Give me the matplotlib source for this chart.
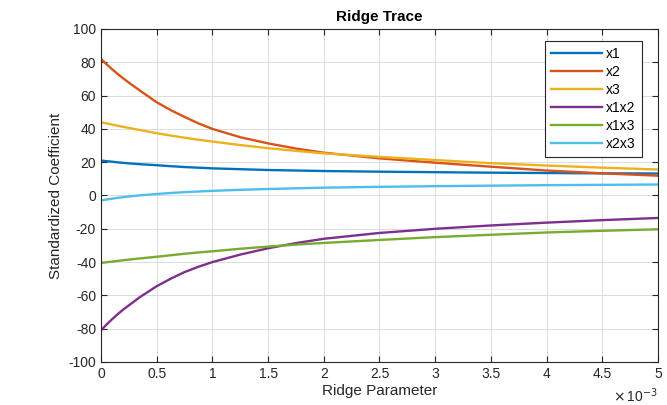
import matplotlib
matplotlib.use("Agg")
import matplotlib.pyplot as plt
import numpy as np

plt.rcParams["font.family"] = ["Liberation Sans", "DejaVu Sans"]
plt.rcParams["axes.unicode_minus"] = False

# ridge parameter (x 1e-3)
k = [0, 0.05, 0.1, 0.15, 0.2, 0.25, 0.35, 0.5, 0.625, 0.75, 0.875, 1,
     1.25, 1.5, 1.75, 2, 2.5, 3, 3.5, 4, 4.5, 5]

x1 = [21, 20.6, 20.3, 19.9, 19.6, 19.3, 18.8, 18.2, 17.6, 17.1, 16.7, 16.3,
      15.8, 15.3, 15, 14.7, 14.3, 14, 13.7, 13.5, 13.3, 13.2]
x2 = [82, 78.8, 75.8, 73, 70.3, 67.8, 63, 56, 51.3, 47.2, 43.3, 40,
      35, 31.3, 28.2, 25.7, 22.3, 19.7, 17.3, 15, 13.3, 11.9]
x3 = [44, 43.3, 42.6, 41.9, 41.2, 40.6, 39.3, 37.4, 36, 34.7, 33.5, 32.4,
      30.3, 28.4, 26.8, 25.3, 23.2, 21.3, 19.4, 18, 16.7, 15.6]
x1x2 = [-81, -77.5, -74.3, -71.3, -68.5, -66, -61, -54.5, -50, -46, -42.8, -40,
        -35.5, -31.7, -28.6, -26, -22.5, -20, -18, -16.3, -14.8, -13.5]
x1x3 = [-40.5, -40.1, -39.7, -39.3, -38.9, -38.5, -37.8, -36.8, -35.9, -35, -34.2, -33.5,
        -32, -30.7, -29.5, -28.5, -26.7, -25, -23.6, -22.2, -21.2, -20.3]
x2x3 = [-3, -2.4, -1.9, -1.4, -1, -0.6, 0.1, 0.9, 1.5, 2, 2.4, 2.8,
        3.4, 3.9, 4.3, 4.7, 5.2, 5.6, 5.9, 6.2, 6.4, 6.6]

labels = ["x1", "x2", "x3", "x1x2", "x1x3", "x2x3"]
colors = ["#0072BD", "#D95319", "#EDB120", "#7E2F8E", "#77AC30", "#4DBEEE"]

fig = plt.figure(figsize=(6.67, 4.05), dpi=100)
ax = fig.add_axes([0.1514, 0.1062, 0.8351, 0.8222])

kk = np.array(k) * 1e-3
for ys, lab, c in zip([x1, x2, x3, x1x2, x1x3, x2x3], labels, colors):
    ax.plot(kk, ys, color=c, linewidth=1.7, label=lab)

ax.set_xlim(0, 0.005)
ax.set_ylim(-100, 100)
ax.set_xticks(np.arange(0, 0.0051, 0.0005))
ax.set_xticklabels(["0", "0.5", "1", "1.5", "2", "2.5", "3", "3.5", "4", "4.5", "5"])
ax.set_yticks(np.arange(-100, 101, 20))
ax.grid(True, color="#dcdcdc", linewidth=0.7)
ax.set_axisbelow(True)
ax.tick_params(direction="in", top=True, right=True, labelsize=10,
               colors="#262626", length=4)
for s in ax.spines.values():
    s.set_color("#262626")
    s.set_linewidth(0.8)

ax.set_title("Ridge Trace", fontsize=11, fontweight="bold", pad=6)
ax.set_xlabel("Ridge Parameter", fontsize=11, color="#262626", labelpad=2)
ax.set_ylabel("Standardized Coefficient", fontsize=11, color="#262626", labelpad=4)
ax.text(1.0, -0.1, r"$\times\,$10$^{-3}$", transform=ax.transAxes,
        ha="right", va="center", fontsize=10, color="#262626")

leg = ax.legend(loc="upper right", bbox_to_anchor=(0.971, 0.964), fontsize=10,
                handlelength=3.7, handletextpad=0.25, labelspacing=0.28,
                borderpad=0.45, fancybox=False, framealpha=1,
                edgecolor="#262626", borderaxespad=0)
leg.get_frame().set_linewidth(0.8)

fig.savefig("out.png", dpi=100)
